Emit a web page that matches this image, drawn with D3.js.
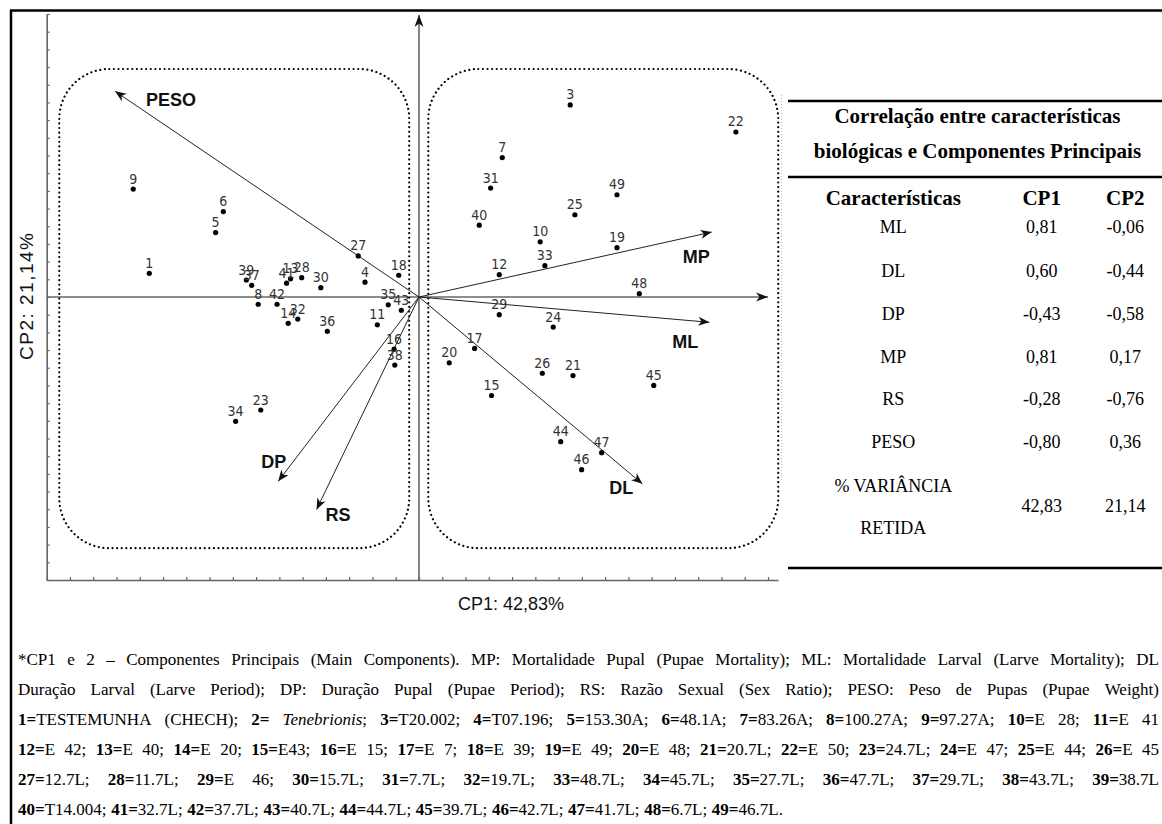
<!DOCTYPE html>
<html><head><meta charset="utf-8">
<script src="https://cdn.jsdelivr.net/npm/d3@7"></script>
<style>
body{margin:0;background:#fff;}
svg{display:block;}
</style></head>
<body>
<svg id="c" width="1162" height="824"></svg>
<script>
// ---------------- DATA ----------------
const pointIds = [1,3,4,5,6,7,8,9,10,11,12,13,14,15,16,17,18,19,20,21,22,23,24,25,26,27,28,29,30,31,32,33,34,35,36,37,38,39,40,41,42,43,44,45,46,47,48,49];
const pointCP1 = [-11.59,6.50,-2.32,-8.74,-8.41,3.58,-6.91,-12.28,5.21,-1.79,3.45,-5.52,-5.62,3.12,-1.07,2.39,-0.87,8.51,1.30,6.62,13.62,-6.80,5.77,6.70,5.30,-2.61,-5.04,3.45,-4.22,3.08,-5.21,5.41,-7.88,-1.32,-3.94,-7.19,-1.04,-7.42,2.59,-5.69,-6.10,-0.76,6.09,10.09,6.99,7.85,9.47,8.51];
const pointCP2 = [1.34,10.86,0.84,3.64,4.83,7.88,-0.41,6.10,3.12,-1.57,1.26,1.03,-1.49,-5.57,-2.95,-2.91,1.23,2.79,-3.72,-4.44,9.33,-6.39,-1.70,4.65,-4.31,2.32,1.09,-1.00,0.53,6.16,-1.25,1.77,-7.03,-0.44,-1.94,0.66,-3.85,0.96,4.06,0.78,-0.41,-0.75,-8.18,-5.00,-9.76,-8.80,0.19,5.78];

const vectorNames = ["PESO","MP","ML","DL","DP","RS"];
const vectorCP1 = [-13.06,12.58,12.48,9.60,-6.05,-4.40];
const vectorCP2 = [11.63,3.67,-1.43,-10.56,-10.42,-12.01];

const xTickValues = d3.range(-16, 16);
const yTickValues = d3.range(-16, 17);
const xAxisTitle = "CP1: 42,83%";
const yAxisTitle = "CP2: 21,14%";

const tableTitle = ["Correlação entre características", "biológicas e Componentes Principais"];
const tableHeader = ["Características", "CP1", "CP2"];
const traits = ["ML","DL","DP","MP","RS","PESO"];
const corrCP1 = ["0,81","0,60","-0,43","0,81","-0,28","-0,80"];
const corrCP2 = ["-0,06","-0,44","-0,58","0,17","-0,76","0,36"];
const varianceLabel = ["% VARIÂNCIA","RETIDA"];
const varianceCP1 = "42,83";
const varianceCP2 = "21,14";

const captionIntro = [
 "*CP1 e 2 – Componentes Principais (Main Components). MP: Mortalidade Pupal (Pupae Mortality); ML: Mortalidade Larval (Larve Mortality); DL",
 "Duração Larval (Larve Period); DP: Duração Pupal (Pupae Period); RS: Razão Sexual (Sex Ratio); PESO: Peso de Pupas (Pupae Weight)"
];
const treatments = ["TESTEMUNHA (CHECH)"," _Tenebrionis_","T20.002","T07.196","153.30A","48.1A","83.26A","100.27A","97.27A","E 28","E 41",
 "E 42","E 40","E 20","E43","E 15","E 7","E 39","E 49","E 48","20.7L","E 50","24.7L","E 47","E 44","E 45",
 "12.7L","11.7L","E 46","15.7L","7.7L","19.7L","48.7L","45.7L","27.7L","47.7L","29.7L","43.7L","38.7L",
 "T14.004","32.7L","37.7L","40.7L","44.7L","39.7L","42.7L","41.7L","6.7L","46.7L"];
const captionBreaks = [[1,11],[12,26],[27,39],[40,49]];

// ---------------- DRAW ----------------
const svg = d3.select("#c");
const sans = "'Liberation Sans', Arial, sans-serif";
const serif = "'Liberation Serif', 'Times New Roman', serif";

// frame
svg.append("line").attr("x1",10).attr("x2",1162).attr("y1",10.5).attr("y2",10.5).attr("stroke","#000").attr("stroke-width",2.5);
svg.append("line").attr("x1",11).attr("x2",11).attr("y1",10).attr("y2",824).attr("stroke","#000").attr("stroke-width",2.5);

const x = d3.scaleLinear().domain([-16, 15.43]).range([46.7, 778]);
const y = d3.scaleLinear().domain([-16, 16]).range([580, 14]);

const defs = svg.append("defs");
defs.append("marker").attr("id","vh").attr("markerUnits","userSpaceOnUse")
  .attr("viewBox","-12 -6 14 12").attr("markerWidth",14).attr("markerHeight",12)
  .attr("refX",0).attr("refY",0).attr("orient","auto")
  .append("path").attr("d","M0,0 L-11,-4.5 L-8,0 L-11,4.5 Z").attr("fill","#111");
defs.append("marker").attr("id","ah").attr("markerUnits","userSpaceOnUse")
  .attr("viewBox","-13 -6 15 12").attr("markerWidth",15).attr("markerHeight",12)
  .attr("refX",0).attr("refY",0).attr("orient","auto")
  .append("path").attr("d","M0,0 L-12,-4.5 L-8.5,0 L-12,4.5 Z").attr("fill","#111");

// axes
const axisColor = "#666";
const gy = svg.append("g").attr("transform",`translate(${x(-16)},0)`)
  .call(d3.axisLeft(y).tickValues(yTickValues).tickSize(-3).tickSizeOuter(0).tickFormat(""));
const gx = svg.append("g").attr("transform",`translate(0,${y(-16)})`)
  .call(d3.axisBottom(x).tickValues(xTickValues).tickSize(-3).tickSizeOuter(0).tickFormat(""));
[gx,gy].forEach(g=>{ g.select(".domain").attr("stroke",axisColor).attr("stroke-width",1.6);
  g.selectAll(".tick line").attr("stroke",axisColor).attr("stroke-width",1.2); });

// center axes
svg.append("line").attr("x1",x(0)).attr("x2",x(0)).attr("y1",y(-16)).attr("y2",y(15.95))
  .attr("stroke",axisColor).attr("stroke-width",1.6).attr("marker-end","url(#ah)");
svg.append("line").attr("x1",x(-16)).attr("x2",x(15)).attr("y1",y(0)).attr("y2",y(0))
  .attr("stroke",axisColor).attr("stroke-width",1.6).attr("marker-end","url(#ah)");

// dotted group boxes
const boxes = [[-15.46,-0.42],[0.40,15.44]];
boxes.forEach(b=>{
  svg.append("rect").attr("x",x(b[0])).attr("y",y(12.89)).attr("width",x(b[1])-x(b[0])).attr("height",y(-14.2)-y(12.89))
   .attr("rx",50).attr("ry",50).attr("fill","none").attr("stroke","#000").attr("stroke-width",2.2)
   .attr("stroke-dasharray","0.01 4.6").attr("stroke-linecap","round");
});

// vectors
const vecs = vectorNames.map((n,i)=>({n, a:vectorCP1[i], b:vectorCP2[i]}));
svg.append("g").selectAll("line").data(vecs).join("line")
  .attr("x1",x(0)).attr("y1",y(0)).attr("x2",d=>x(d.a)).attr("y2",d=>y(d.b))
  .attr("stroke","#222").attr("stroke-width",1).attr("marker-end","url(#vh)");
const labelOffset = {PESO:[31,15], MP:[-29,31], ML:[-37,26], DL:[-33,10], DP:[-17,-13], RS:[9,12]};
svg.append("g").selectAll("text").data(vecs).join("text")
  .attr("x",d=>x(d.a)+labelOffset[d.n][0]).attr("y",d=>y(d.b)+labelOffset[d.n][1])
  .attr("font-family",sans).attr("font-weight","bold").attr("font-size",18).attr("fill","#111")
  .text(d=>d.n);

// points
const pts = pointIds.map((id,i)=>({id, a:pointCP1[i], b:pointCP2[i]}));
const gp = svg.append("g");
gp.selectAll("circle").data(pts).join("circle")
  .attr("cx",d=>x(d.a)).attr("cy",d=>y(d.b)).attr("r",2.6).attr("fill","#000");
gp.selectAll("text").data(pts).join("text")
  .attr("x",d=>x(d.a)).attr("y",d=>y(d.b)-5.5).attr("text-anchor","middle")
  .attr("font-family","'Liberation Sans Narrow', 'Arial Narrow', 'DejaVu Sans Condensed', sans-serif")
  .attr("font-size",14).attr("fill","#333").text(d=>d.id);

// axis titles
svg.append("text").attr("x",511).attr("y",610).attr("text-anchor","middle")
  .attr("font-family",sans).attr("font-size",18).attr("fill","#111").text(xAxisTitle);
svg.append("text").attr("transform","translate(33,296.5) rotate(-90)").attr("text-anchor","middle")
  .attr("font-family",sans).attr("font-size",19).attr("fill","#111")
  .attr("textLength",127).attr("lengthAdjust","spacing").text(yAxisTitle);

// faint dotted line by table
svg.append("line").attr("x1",781.5).attr("x2",781.5).attr("y1",95).attr("y2",480)
  .attr("stroke","#bbb").attr("stroke-width",1).attr("stroke-dasharray","1 2");

// table
const tx0 = 788, tx1 = 1162;
[[101,2.5],[177,2.5],[568,2.5]].forEach(r=>{
  svg.append("line").attr("x1",tx0).attr("x2",tx1).attr("y1",r[0]).attr("y2",r[0]).attr("stroke","#000").attr("stroke-width",r[1]);
});
const colX = [893.3, 1041.7, 1125.3];
tableTitle.forEach((t,i)=>{
  svg.append("text").attr("x",977.5).attr("y",[123.3,158.3][i]).attr("text-anchor","middle")
   .attr("font-family",serif).attr("font-weight","bold").attr("font-size",21).text(t);
});
tableHeader.forEach((t,i)=>{
  svg.append("text").attr("x",colX[i]).attr("y",205).attr("text-anchor","middle")
   .attr("font-family",serif).attr("font-weight","bold").attr("font-size",21).text(t);
});
const rowY = [233.3,276.7,320,362.7,405,448.3];
traits.forEach((t,i)=>{
  [t, corrCP1[i], corrCP2[i]].forEach((v,j)=>{
    svg.append("text").attr("x",colX[j]).attr("y",rowY[i]).attr("text-anchor","middle")
     .attr("font-family",serif).attr("font-size",18).text(v);
  });
});
varianceLabel.forEach((t,i)=>{
  svg.append("text").attr("x",colX[0]).attr("y",[491.7,534.3][i]).attr("text-anchor","middle")
   .attr("font-family",serif).attr("font-size",18).text(t);
});
[varianceCP1, varianceCP2].forEach((v,j)=>{
  svg.append("text").attr("x",colX[j+1]).attr("y",511.7).attr("text-anchor","middle")
   .attr("font-family",serif).attr("font-size",18).text(v);
});

// caption
function parseToken(tok){
  const segs=[]; let b=false, it=false, cur="";
  for(let k=0;k<tok.length;k++){
    if(tok[k]==="*" && tok[k+1]==="*"){ if(cur) segs.push({t:cur,b,i:it}); cur=""; b=!b; k++; continue; }
    if(tok[k]==="_"){ if(cur) segs.push({t:cur,b,i:it}); cur=""; it=!it; continue; }
    cur+=tok[k];
  }
  if(cur) segs.push({t:cur,b,i:it});
  return segs;
}
const captionLines = captionIntro.map(s=>s);
captionBreaks.forEach(([s,e],li)=>{
  const items=[];
  for(let i=s;i<=e;i++){
    const last = i===e;
    const end = last ? (li===captionBreaks.length-1 ? "." : "") : ";";
    items.push(`**${i}=**${treatments[i-1]}${end}`);
  }
  captionLines.push(items.join(" "));
});
const capX0 = 18, capX1 = 1159, capY0 = 665, capDY = 30;
const gc = svg.append("g").attr("font-family",serif).attr("font-size",17).attr("fill","#000");
captionLines.forEach((line,li)=>{
  const tokens = line.split(/\s+/).filter(s=>s.length).map(parseToken);
  const yy = capY0 + li*capDY;
  const texts = tokens.map(tok=>{
    const t = gc.append("text").attr("y",yy);
    tok.forEach(s=>t.append("tspan").text(s.t).attr("font-weight",s.b?"bold":null).attr("font-style",s.i?"italic":null));
    return t;
  });
  const w = texts.map(t=>t.node().getComputedTextLength());
  const justify = li < captionLines.length-1;
  const gap = justify ? (capX1-capX0-d3.sum(w))/(texts.length-1) : 4.6;
  let xx = capX0;
  texts.forEach((t,i)=>{ t.attr("x",xx); xx += w[i]+gap; });
});
</script>
</body></html>
